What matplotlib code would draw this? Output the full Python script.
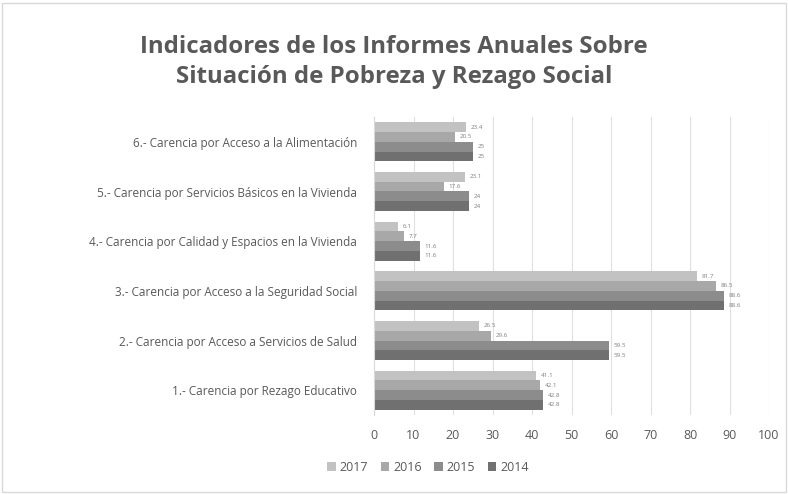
import matplotlib
matplotlib.use("Agg")
import matplotlib.pyplot as plt
import numpy as np

categories = [
    "1.- Carencia por Rezago Educativo",
    "2.- Carencia por Acceso a Servicios de Salud",
    "3.- Carencia por Acceso a la Seguridad Social",
    "4.- Carencia por Calidad y Espacios en la Vivienda",
    "5.- Carencia por Servicios Básicos en la Vivienda",
    "6.- Carencia por Acceso a la Alimentación",
]
years = ["2017", "2016", "2015", "2014"]
v2017 = [41.1, 26.5, 81.7, 6.1, 23.1, 23.4]
v2016 = [42.1, 29.6, 86.5, 7.7, 17.6, 20.5]
v2015 = [42.8, 59.5, 88.6, 11.6, 24, 25]
v2014 = [42.8, 59.5, 88.6, 11.6, 24, 25]
series = [v2017, v2016, v2015, v2014]
colors = ["#c2c2c2", "#a8a8a8", "#8c8c8c", "#707070"]

plt.rcParams['font.family'] = ['Open Sans', 'DejaVu Sans']

fig = plt.figure(figsize=(7.88, 4.94), dpi=100)
ax = fig.add_axes([374/788, 1 - 415/494, (769-374)/788, (415-117)/494])

y = np.arange(len(categories))
h = 0.195
for j, (vals, col) in enumerate(zip(series, colors)):
    off = (1.5 - j) * h
    ax.barh(y + off, vals, height=h, color=col, linewidth=0,
            label=years[j], zorder=2)
    for yi, v in zip(y, vals):
        ax.text(v + 1.2, yi + off, f"{v:g}", fontsize=4.5, color="#7f7f7f",
                va="center", ha="left")

ax.set_xlim(0, 100)
ax.set_ylim(-0.5, len(categories) - 0.5)
ax.set_xticks(range(0, 101, 10))
ax.set_yticks(y)
ax.set_yticklabels(categories)
ax.tick_params(axis='y', length=0, labelsize=8.5, labelcolor="#595959", pad=12)
ax.tick_params(axis='x', length=0, labelsize=9, labelcolor="#595959", pad=10)
ax.grid(axis='x', color="#e0e0e0", linewidth=0.8, zorder=0)
for s in ["top", "right", "bottom"]:
    ax.spines[s].set_visible(False)
ax.spines["left"].set_color("#d9d9d9")

fig.text(0.5, 0.905, "Indicadores de los Informes Anuales Sobre", ha="center",
         va="center", fontsize=17.3, fontweight="bold", color="#595959")
fig.text(0.5, 0.845, "Situación de Pobreza y Rezago Social", ha="center",
         va="center", fontsize=17.3, fontweight="bold", color="#595959")

fig.legend(loc="center", bbox_to_anchor=(428/788, 1 - 467/494), ncol=4,
           frameon=False, fontsize=9, handlelength=0.7, handleheight=0.7,
           columnspacing=1.0, handletextpad=0.3, labelcolor="#595959")

fig.patches.append(plt.Rectangle((0.003, 0.004), 0.994, 0.99, transform=fig.transFigure,
                                 fill=False, edgecolor="#d9d9d9", linewidth=1))

fig.savefig("out.png", dpi=100)
